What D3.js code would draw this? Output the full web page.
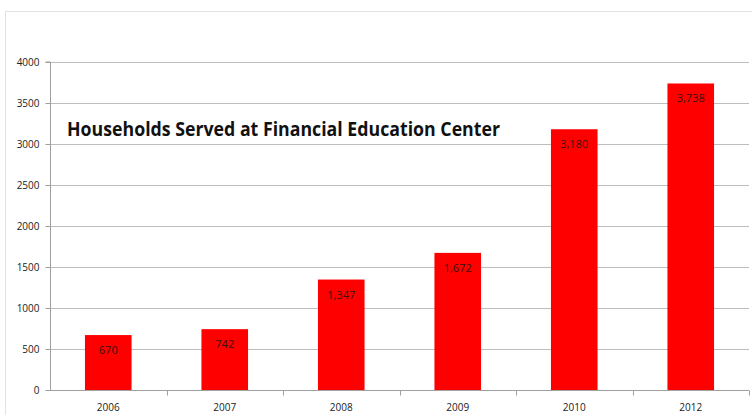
<!DOCTYPE html>
<html><head><meta charset="utf-8">
<script src="https://cdn.jsdelivr.net/npm/d3@7"></script>
<style>body{margin:0;background:#fff}svg{display:block}</style>
</head><body>
<script>
const categories = ["2006","2007","2008","2009","2010","2012"];
const values = [670, 742, 1347, 1672, 3180, 3738];
const valueLabels = ["670","742","1,347","1,672","3,180","3,738"];
const yTicks = [0,500,1000,1500,2000,2500,3000,3500,4000];
const title = "Households Served at Financial Education Center";

(function () {
const W = 752, H = 415;
const svg = d3.select("body").append("svg").attr("width", W).attr("height", H);
const font = "'Open Sans', 'Liberation Sans', sans-serif";

// outer frame
svg.append("rect").attr("x", 5.5).attr("y", 11.5).attr("width", W).attr("height", H)
  .attr("fill", "#fff").attr("stroke", "#e3e3e3");

const mLeft = 50, mRight = 749, mTop = 62, mBottom = 390;
const x = d3.scaleBand().domain(categories).range([mLeft, mRight]).paddingInner(0.6).paddingOuter(0.3);
const xb = d3.scaleBand().domain(categories).range([mLeft, mRight]);
const y = d3.scaleLinear().domain([0, 4000]).range([mBottom, mTop]);

// gridlines
svg.append("g").selectAll("line").data(yTicks.filter(d => d > 0)).join("line")
  .attr("x1", mLeft).attr("x2", mRight)
  .attr("y1", d => Math.round(y(d)) + 0.5).attr("y2", d => Math.round(y(d)) + 0.5)
  .attr("stroke", "#bdbdbd").attr("stroke-width", 1.2);

// y axis
const yAxis = svg.append("g").attr("transform", `translate(${mLeft + 0.5},0)`)
  .call(d3.axisLeft(y).tickValues(yTicks).tickSize(5).tickPadding(6).tickFormat(d3.format("d")));
yAxis.selectAll("path,line").attr("stroke", "#a0a0a0");
yAxis.selectAll("text").attr("font-family", font).attr("font-size", 10).attr("fill", "#222");
yAxis.select(".domain").attr("d", `M-5,${mTop}H0V${mBottom}`);

// bars
svg.append("g").selectAll("rect").data(values).join("rect")
  .attr("x", (d, i) => x(categories[i])).attr("width", x.bandwidth())
  .attr("y", d => y(d)).attr("height", d => mBottom - y(d))
  .attr("fill", "#ff0000");

// x axis
const xAxisG = svg.append("g").attr("transform", `translate(0,${mBottom + 0.5})`);
xAxisG.append("line").attr("x1", mLeft).attr("x2", mRight).attr("stroke", "#a0a0a0");
xAxisG.selectAll("line.t").data(categories).join("line").attr("class", "t")
  .attr("x1", d => Math.round(xb(d) + xb.bandwidth()) + 0.5).attr("x2", d => Math.round(xb(d) + xb.bandwidth()) + 0.5)
  .attr("y1", 0).attr("y2", 5).attr("stroke", "#a0a0a0");
xAxisG.selectAll("text").data(categories).join("text")
  .attr("x", d => x(d) + x.bandwidth() / 2).attr("y", 20)
  .attr("text-anchor", "middle").attr("font-family", font).attr("font-size", 10).attr("fill", "#222")
  .text(d => d);

// value labels
svg.append("g").selectAll("text").data(values).join("text")
  .attr("x", (d, i) => x(categories[i]) + x.bandwidth() / 2)
  .attr("y", d => y(d) + 19)
  .attr("text-anchor", "middle").attr("font-family", font).attr("font-size", 11).attr("fill", "#3a1010")
  .text((d, i) => valueLabels[i]);

// title
svg.append("text").attr("x", 67).attr("y", 136)
  .attr("font-family", font).attr("font-weight", "bold").attr("font-size", 19.5).attr("fill", "#111")
  .attr("textLength", 433).attr("lengthAdjust", "spacingAndGlyphs")
  .text(title);
})();
</script>
</body></html>
